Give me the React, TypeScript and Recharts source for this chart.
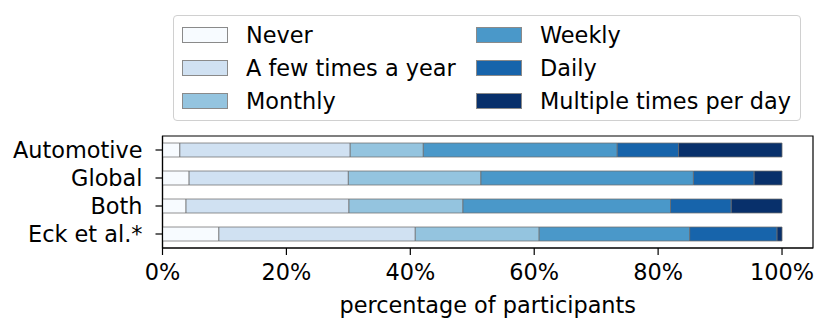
import React from "react";
import {
  BarChart,
  Bar,
  XAxis,
  YAxis,
  Legend,
  ReferenceArea,
} from "recharts";

// data (percent of participants)
const categories = ["Automotive", "Global", "Both", "Eck et al.*"];
const never = [2.8, 4.3, 3.8, 9.1];
const fewTimesYear = [27.5, 25.7, 26.3, 31.7];
const monthly = [11.8, 21.4, 18.4, 20.0];
const weekly = [31.3, 34.3, 33.5, 24.3];
const daily = [9.9, 9.8, 9.8, 14.1];
const multiplePerDay = [16.7, 4.5, 8.2, 0.8];

const seriesNames = [
  "Never",
  "A few times a year",
  "Monthly",
  "Weekly",
  "Daily",
  "Multiple times per day",
];
const seriesValues = [never, fewTimesYear, monthly, weekly, daily, multiplePerDay];
const seriesColors = ["#f7fbff", "#d0e1f2", "#94c4df", "#4a98c9", "#1764ab", "#08306b"];
const xTicks = [0, 20, 40, 60, 80, 100];

const FONT = "DejaVu Sans, sans-serif";
const FS = 22.4;

const data = categories.map((name, i) => {
  const row: Record<string, string | number> = { name };
  seriesNames.forEach((s, j) => {
    row[s] = seriesValues[j][i];
  });
  return row;
});

// legend laid out like matplotlib's ncol=2 box
function LegendBox() {
  return (
    <div
      style={{
        position: "relative",
        width: 628,
        height: 106,
        border: "1.5px solid #d0d0d0",
        borderRadius: 4,
        boxSizing: "border-box",
        background: "#fff",
        fontFamily: FONT,
        fontSize: FS,
      }}
    >
      {seriesNames.map((name, i) => {
        const col = Math.floor(i / 3);
        const row = i % 3;
        const left = col === 0 ? 8 : 302;
        const cy = 18.5 + row * 33;
        return (
          <React.Fragment key={name}>
            <div
              style={{
                position: "absolute",
                left,
                top: cy - 8,
                width: 46,
                height: 16,
                background: seriesColors[i],
                border: "1px solid #8a8a8a",
                boxSizing: "border-box",
              }}
            />
            <div
              style={{
                position: "absolute",
                left: left + 64,
                top: cy - 13,
                lineHeight: "26px",
                whiteSpace: "nowrap",
                color: "#000",
              }}
            >
              {name}
            </div>
          </React.Fragment>
        );
      })}
    </div>
  );
}

export default function App() {
  return (
    <div style={{ position: "absolute", left: 0, top: 0, background: "#fff" }}>
      <BarChart
        width={830}
        height={335}
        data={data}
        layout="vertical"
        margin={{ top: 136, right: 17, left: 0, bottom: 0 }}
      >
        <XAxis
          type="number"
          domain={[0, 105]}
          ticks={xTicks}
          tickFormatter={(v) => `${v}%`}
          height={87}
          tickSize={7}
          tickMargin={9}
          allowDataOverflow
          axisLine={{ stroke: "#000", strokeWidth: 1.2 }}
          tickLine={{ stroke: "#000", strokeWidth: 1.2 }}
          tick={{ fill: "#000", fontSize: FS, fontFamily: FONT }}
          label={{
            value: "percentage of participants",
            position: "insideBottom",
            offset: 22,
            fill: "#000",
            fontSize: FS,
            fontFamily: FONT,
          }}
        />
        <YAxis
          type="category"
          dataKey="name"
          width={162.5}
          interval={0}
          tickSize={7}
          tickMargin={13}
          axisLine={{ stroke: "#000", strokeWidth: 1.2 }}
          tickLine={{ stroke: "#000", strokeWidth: 1.2 }}
          tick={{ fill: "#000", fontSize: FS, fontFamily: FONT }}
        />
        <Legend
          layout="horizontal"
          verticalAlign="middle"
          align="center"
          content={() => <LegendBox />}
          wrapperStyle={{ position: "absolute", left: 173, top: 15, width: 628, height: 106 }}
        />
        {seriesNames.map((s, i) => (
          <Bar
            key={s}
            dataKey={s}
            stackId="a"
            fill={seriesColors[i]}
            stroke="#6e6e6e"
            strokeOpacity={0.75}
            strokeWidth={1}
            barSize={14}
            isAnimationActive={false}
          />
        ))}
        {/* frame around the plot area */}
        <ReferenceArea
          x1={0}
          x2={105}
          fill="none"
          stroke="#000"
          strokeWidth={1.2}
          ifOverflow="visible"
        />
      </BarChart>
    </div>
  );
}
